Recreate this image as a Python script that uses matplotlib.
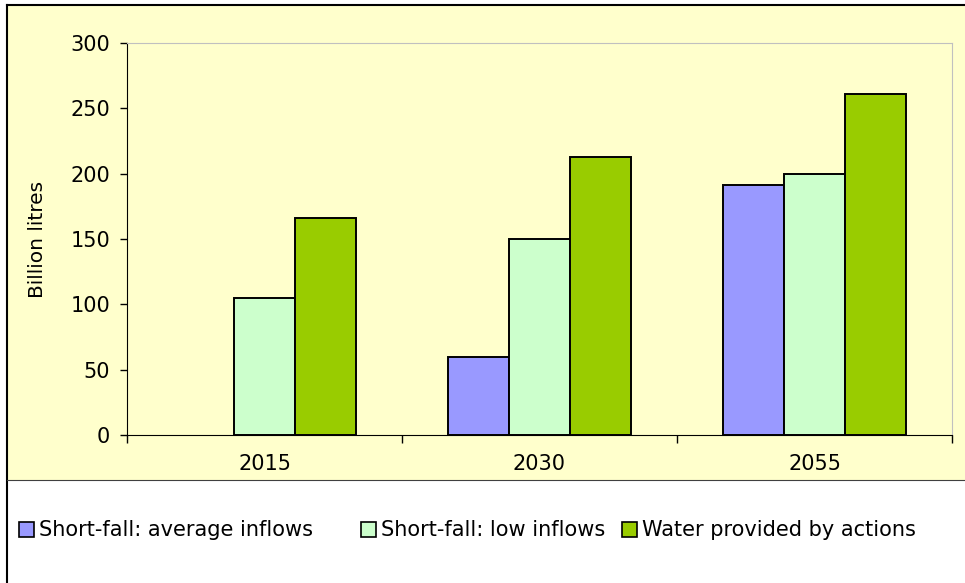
import numpy as np
import matplotlib
matplotlib.use("Agg")
import matplotlib.pyplot as plt
from matplotlib.patches import Rectangle, Patch
from matplotlib.lines import Line2D

# data
years = ["2015", "2030", "2055"]
avg_inflows = [np.nan, 60, 191]
low_inflows = [105, 150, 200]
actions = [166, 213, 261]
series_names = ["Short-fall: average inflows", "Short-fall: low inflows", "Water provided by actions"]
series_colors = ["#9999FF", "#CCFFCC", "#99CC00"]
legend_x = [19, 361, 622]  # left edge of each legend square, px

W, H = 965, 583
CREAM = "#FFFFCC"
FS = 15

plt.rcParams["font.family"] = ["DejaVu Sans"]

fig = plt.figure(figsize=(W / 100, H / 100), dpi=100)
fig.patch.set_facecolor("white")


def px(x, y):
    # pixel coords (from top-left) -> figure fraction
    return x / W, 1 - y / H


# cream chart area + borders
x0, y0 = px(7, 5)
_, y1 = px(7, 480)
fig.patches.append(Rectangle((x0, y1), 1 - x0, y0 - y1, transform=fig.transFigure,
                             facecolor=CREAM, edgecolor="none", zorder=-10))
fig.lines.append(Line2D([x0, x0], [0, y0], transform=fig.transFigure, color="black", lw=1.5))
fig.lines.append(Line2D([x0, 1], [y0, y0], transform=fig.transFigure, color="black", lw=1.5))
fig.lines.append(Line2D([x0, 1], [y1, y1], transform=fig.transFigure, color="#404040", lw=0.8))

ax_l, ax_t = px(127, 43)
ax_r, ax_b = px(952, 435)
ax = fig.add_axes([ax_l, ax_b, ax_r - ax_l, ax_t - ax_b])
ax.set_facecolor(CREAM)

x = np.arange(len(years))
bw = 1 / 4.5
for j, (vals, col) in enumerate(zip([avg_inflows, low_inflows, actions], series_colors)):
    ax.bar(x + (j - 1) * bw, vals, width=bw, color=col, edgecolor="black", linewidth=1.4, zorder=3)

ax.set_xlim(-0.5, len(years) - 0.5)
ax.set_ylim(0, 300)
ax.set_yticks(np.arange(0, 301, 50))
ax.tick_params(axis="y", length=5, width=1, pad=7, labelsize=FS, direction="out")

ax.set_xticks(x)
ax.set_xticklabels(years)
ax.set_xticks(np.arange(-0.5, len(years), 1), minor=True)
ax.tick_params(axis="x", which="major", length=0, pad=14, labelsize=FS)
ax.tick_params(axis="x", which="minor", length=6, width=1, direction="out")

for side in ["top", "right"]:
    ax.spines[side].set_color("#C0C0C0")
ax.spines["left"].set_color("black")
ax.spines["bottom"].set_color("black")

ax.set_ylabel("Billion litres", fontsize=14.5)
ax.yaxis.set_label_coords((47 - 127) / 825, 0.5)

# one legend per entry so each square sits where the reference has it
for name, col, lxp in zip(series_names, series_colors, legend_x):
    lx, ly = px(lxp, 530.5)
    fig.legend([Patch(facecolor=col, edgecolor="black", linewidth=1.2)], [name],
               loc="center left", bbox_to_anchor=(lx, ly), frameon=False, fontsize=15,
               borderpad=0, borderaxespad=0, handlelength=0.72, handleheight=0.72,
               handletextpad=0.25)

fig.savefig("out.png", dpi=100)
